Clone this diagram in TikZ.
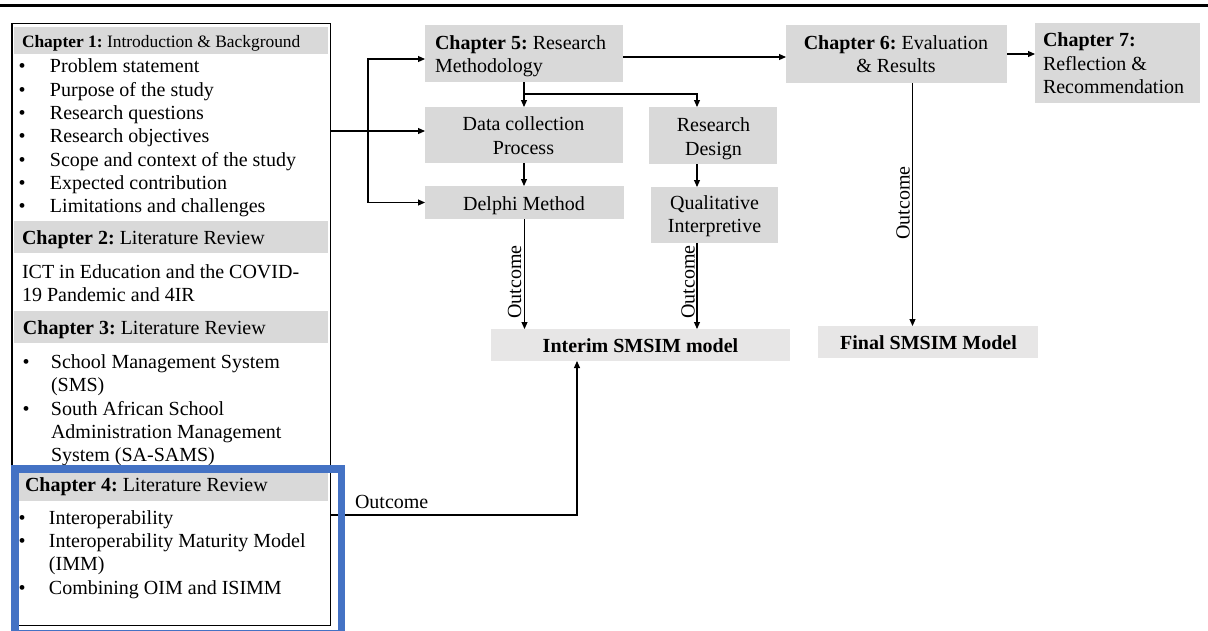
\documentclass[tikz,border=0pt]{standalone}
\usepackage{fontspec}
\setmainfont{Liberation Serif}
\usetikzlibrary{arrows.meta,calc}
\definecolor{boxgray}{HTML}{D9D9D9}
\definecolor{palegray}{HTML}{E7E6E6}
\definecolor{frameblue}{HTML}{4472C4}
\newcommand\txt{\fontsize{20}{23.35}\selectfont\frenchspacing}
\newcommand\hdrsmall{\fontsize{17.4}{20}\selectfont\frenchspacing}
\newcommand\bul[1]{\makebox[#1][l]{•}}
\frenchspacing
\begin{document}
\begin{tikzpicture}[x=1pt,y=-1pt,
  every node/.style={inner sep=0pt, outer sep=0pt, font=\txt,
    execute at begin node={\spaceskip=\fontdimen2\font\xspaceskip=\fontdimen2\font\relax}},
  gbox/.style={fill=boxgray, anchor=north west},
  pbox/.style={fill=palegray, anchor=north west},
  lbl/.style={anchor=base west},
  listtxt/.style={anchor=base west, text width=315, align=left},
  ctxt/.style={anchor=base, text width=#1, align=center},
  conn/.style={line width=1.1pt, -{Triangle[length=7pt,width=6pt]}}]
\useasboundingbox (0,0) rectangle (1208,630);

% top rule
\draw[line width=3pt] (0,5) -- (1208,5);

% ---------- left column: chapters 1-4 ----------
\node[draw, line width=1.5pt, anchor=north west, minimum width=318.75, minimum height=602] (left) at (11.75,23.5) {};

\node[gbox, minimum width=314, minimum height=27] (h1) at (14,27) {};
\node[gbox, minimum width=314, minimum height=32] (h2) at (14,221) {};
\node[gbox, minimum width=314, minimum height=32] (h3) at (14,311) {};
\node[gbox, minimum width=309, minimum height=28] (h4) at (19,473) {};

\node[lbl, font=\hdrsmall] (h1t) at (22,47) {\textbf{Chapter 1:} Introduction \& Background};
\node[lbl] (h2t) at (22,244) {\textbf{Chapter 2:} Literature Review};
\node[lbl] (h3t) at (23,334) {\textbf{Chapter 3:} Literature Review};
\node[lbl] (h4t) at (25,491) {\textbf{Chapter 4:} Literature Review};

\node[listtxt] (l1) at (18.5,72.7) {\bul{31.5pt}Problem statement\\
\bul{31.5pt}Purpose of the study\\
\bul{31.5pt}Research questions\\
\bul{31.5pt}Research objectives\\
\bul{31.5pt}Scope and context of the study\\
\bul{31.5pt}Expected contribution\\
\bul{31.5pt}Limitations and challenges};

\node[listtxt] (l2) at (22,278) {ICT in Education and the COVID-\\19 Pandemic and 4IR};

\node[listtxt] (l3) at (22.5,368.3) {\bul{28.5pt}School Management System\\
\hspace*{28.5pt}(SMS)\\
\bul{28.5pt}South African School\\
\hspace*{28.5pt}Administration Management\\
\hspace*{28.5pt}System (SA-SAMS)};

\node[listtxt] (l4) at (18.5,524) {\bul{30.5pt}Interoperability\\
\bul{30.5pt}Interoperability Maturity Model\\
\hspace*{30.5pt}(IMM)\\
\bul{30.5pt}Combining OIM and ISIMM};

% ---------- method and result boxes ----------
\node[gbox, minimum width=198, minimum height=57] (ch5) at (425,25) {};
\node[gbox, minimum width=221, minimum height=58] (ch6) at (786,25) {};
\node[gbox, minimum width=165, minimum height=80] (ch7) at (1035,23) {};
\node[gbox, minimum width=198, minimum height=56] (dc) at (425,107) {};
\node[gbox, minimum width=128, minimum height=57] (rd) at (649,107) {};
\node[gbox, minimum width=199, minimum height=33] (dm) at (425,186) {};
\node[gbox, minimum width=127, minimum height=56] (qi) at (651,187) {};
\node[pbox, minimum width=299, minimum height=32] (interim) at (491,329) {};
\node[pbox, minimum width=220, minimum height=32] (final) at (818,326) {};

\node[anchor=base west, text width=190, align=left] (ch5t) at (435,49.3) {\textbf{Chapter 5:} Research\\Methodology};
\node[ctxt=215] (ch6t) at (896,49.3) {\textbf{Chapter 6:} Evaluation\\\& Results};
\node[anchor=base west, text width=160, align=left] (ch7t) at (1043,46.7) {\textbf{Chapter 7:}\\Reflection \&\\Recommendation};
\node[ctxt=190] (dct) at (523.5,130.7) {Data collection\\Process};
\node[ctxt=125] (rdt) at (713.5,131.7) {Research\\Design};
\node[ctxt=190] (dmt) at (524,210) {Delphi Method};
\node[ctxt=125] (qit) at (714.5,209.5) {Qualitative\\Interpretive};
\node[ctxt=290] (imt) at (640.5,352.3) {\textbf{Interim SMSIM model}};
\node[ctxt=215] (fmt) at (928.5,349) {\textbf{Final SMSIM Model}};

% ---------- connectors ----------
\coordinate (jn) at (368,131);
\draw[conn] (left.east |- jn) -- (jn -| dc.west);
\draw[conn] (jn) |- ([yshift=-5.5pt]ch5.west);
\draw[conn] (jn) |- (dm.west);

\draw[conn] ([yshift=-3.5pt]ch5.east) -- ([yshift=-3.5pt]ch5.east -| ch6.west);
\draw[conn] (ch6.east) -- (ch6.east -| ch7.west);

\coordinate (sp) at ($(ch5.south)+(0,12)$);
\draw[conn] (ch5.south) -- (dc.north);
\draw[conn] (sp) -| ([xshift=-16pt]rd.north);
\draw[conn] (dc.south) -- (dc.south |- dm.north);
\draw[conn] ([xshift=-16pt]rd.south) -- ([xshift=-16pt]rd.south |- qi.north);

\draw[conn] (dm.south) -- (dm.south |- interim.north);
\draw[conn] ([xshift=-17.5pt]qi.south) -- ([xshift=-17.5pt]qi.south |- interim.north);
\draw[conn] ([xshift=16pt]ch6.south) -- ([xshift=16pt]ch6.south |- final.north);

\node[rotate=90] (o1) at (514.5,282) {Outcome};
\node[rotate=90] (o2) at (688,282) {Outcome};
\node[rotate=90] (o3) at (903,203) {Outcome};

\coordinate (ob) at (577,515);
\draw[conn] (left.east |- ob) -- (ob) -- (ob |- interim.south);
\node[lbl] (o4) at (355,508.3) {Outcome};

% highlight frame around chapter 4
\draw[frameblue, line width=7.5pt] (15,469) rectangle (341.5,634);
\end{tikzpicture}
\end{document}
